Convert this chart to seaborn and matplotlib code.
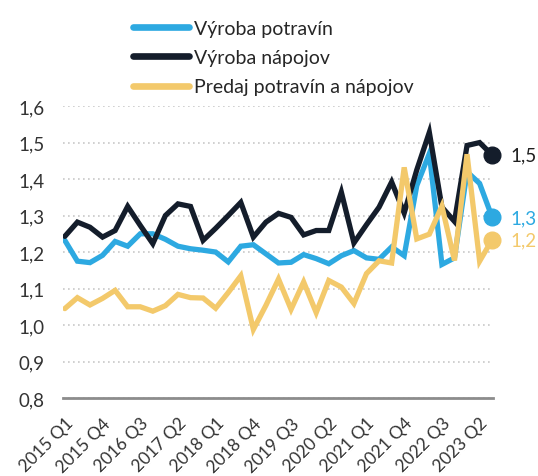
import matplotlib
matplotlib.use("Agg")
import matplotlib.pyplot as plt
import seaborn as sns
import pandas as pd
from matplotlib.lines import Line2D

quarters = [
    "2015 Q1", "2015 Q2", "2015 Q3", "2015 Q4",
    "2016 Q1", "2016 Q2", "2016 Q3", "2016 Q4",
    "2017 Q1", "2017 Q2", "2017 Q3", "2017 Q4",
    "2018 Q1", "2018 Q2", "2018 Q3", "2018 Q4",
    "2019 Q1", "2019 Q2", "2019 Q3", "2019 Q4",
    "2020 Q1", "2020 Q2", "2020 Q3", "2020 Q4",
    "2021 Q1", "2021 Q2", "2021 Q3", "2021 Q4",
    "2022 Q1", "2022 Q2", "2022 Q3", "2022 Q4",
    "2023 Q1", "2023 Q2", "2023 Q3",
]

vyroba_potravin = [
    1.232, 1.175, 1.171, 1.191, 1.229, 1.216, 1.250, 1.250, 1.235, 1.216,
    1.209, 1.205, 1.200, 1.173, 1.216, 1.220, 1.195, 1.170, 1.172, 1.193,
    1.182, 1.168, 1.190, 1.204, 1.184, 1.180, 1.214, 1.190, 1.382, 1.470,
    1.166, 1.184, 1.420, 1.388, 1.295,
]

vyroba_napojov = [
    1.243, 1.282, 1.268, 1.241, 1.259, 1.325, 1.273, 1.223, 1.300, 1.332,
    1.325, 1.232, 1.265, 1.300, 1.336, 1.241, 1.282, 1.306, 1.295, 1.247,
    1.259, 1.259, 1.364, 1.225, 1.275, 1.323, 1.392, 1.307, 1.425, 1.528,
    1.323, 1.284, 1.492, 1.500, 1.466,
]

predaj = [
    1.045, 1.075, 1.055, 1.073, 1.095, 1.050, 1.050, 1.038, 1.053, 1.084,
    1.075, 1.074, 1.046, 1.089, 1.135, 0.988, 1.054, 1.126, 1.043, 1.118,
    1.034, 1.122, 1.104, 1.059, 1.141, 1.176, 1.170, 1.432, 1.236, 1.249,
    1.326, 1.177, 1.468, 1.175, 1.234,
]

series_names = ["Výroba potravín", "Výroba nápojov", "Predaj potravín a nápojov"]
end_labels = ["1,3", "1,5", "1,2"]
colors = ["#2DA9E1", "#141D2B", "#F3C96B"]
label_colors = ["#2DA9E1", "#1F1F1F", "#F3C96B"]
y_ticks = [0.8, 0.9, 1.0, 1.1, 1.2, 1.3, 1.4, 1.5, 1.6]

sns.set_theme(style="white")
plt.rcParams["font.family"] = ["Lato", "DejaVu Sans"]

df = pd.DataFrame({
    "idx": list(range(len(quarters))) * 3,
    "value": vyroba_potravin + vyroba_napojov + predaj,
    "series": [series_names[0]] * len(quarters)
              + [series_names[1]] * len(quarters)
              + [series_names[2]] * len(quarters),
})

fig = plt.figure(figsize=(5.38, 4.77), dpi=100)
ax = fig.add_axes([0.117, 0.1635, 0.799, 0.612])

palette = dict(zip(series_names, colors))
sns.lineplot(data=df, x="idx", y="value", hue="series", palette=palette,
             hue_order=series_names, linewidth=3.8, legend=False, ax=ax,
             solid_joinstyle="miter")

last = len(quarters) - 1
for vals, c, lab, lc in zip([vyroba_potravin, vyroba_napojov, predaj], colors, end_labels, label_colors):
    ax.plot([last], [vals[-1]], marker="o", markersize=12, color=c, zorder=5, clip_on=False)
    ax.annotate(lab, xy=(last, vals[-1]), xytext=(13, 0), textcoords="offset points",
                va="center", ha="left", fontsize=13.5, color=lc, annotation_clip=False)

ax.set_xlim(-0.15, last + 0.05)
ax.set_ylim(0.8, 1.6)
ax.set_yticks(y_ticks)
ax.set_yticklabels([f"{v:.1f}".replace(".", ",") for v in y_ticks],
                   fontsize=13.5, color="#333333")
ticks = list(range(0, len(quarters), 3))
ax.set_xticks(ticks)
ax.set_xticklabels([quarters[i] for i in ticks], rotation=45, ha="right",
                   rotation_mode="anchor", fontsize=12.5, color="#333333")
ax.tick_params(axis="y", length=0, pad=13)
ax.tick_params(axis="x", length=0, pad=12)
ax.set_xlabel("")
ax.set_ylabel("")

for s in ["top", "right", "left"]:
    ax.spines[s].set_visible(False)
ax.spines["bottom"].set_color("#8C8C8C")
ax.spines["bottom"].set_linewidth(2)
ax.yaxis.grid(True, linestyle=(0, (1, 2)), color="#C8C8C8", linewidth=1.2)
ax.xaxis.grid(False)
ax.set_axisbelow(True)

handles = [Line2D([0], [0], color=c, linewidth=4.8, solid_capstyle="round") for c in colors]
fig.legend(handles, series_names, loc="upper left", bbox_to_anchor=(0.222, 0.984),
           frameon=False, fontsize=14, handlelength=2.9, handletextpad=0.25,
           labelspacing=0.62, borderaxespad=0.3)

fig.savefig("out.png", dpi=100)
